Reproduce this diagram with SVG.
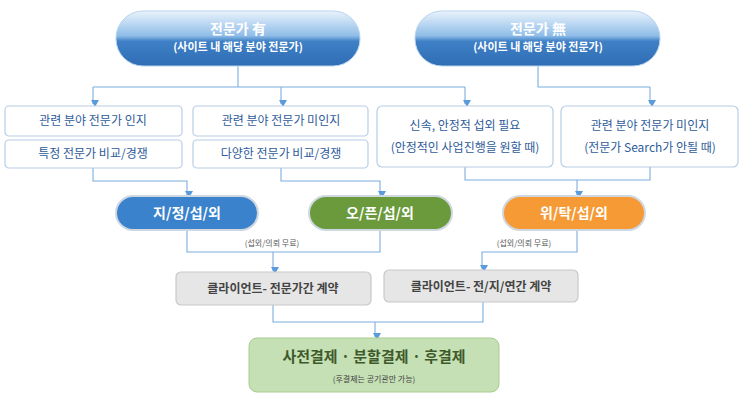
<svg xmlns="http://www.w3.org/2000/svg" width="743" height="404" viewBox="0 0 743 404">
<defs>
<style>
text{font-family:"Noto Sans CJK KR","Noto Sans",sans-serif;text-anchor:middle}
.box{fill:#fff;stroke:#b7cde6;stroke-width:1.2}
.bt{font-size:12px;fill:#2e5c9a}
.ln{fill:none;stroke:#7aaee0;stroke-width:1.1}
.gray{fill:#e6e6e6;stroke:#c8c8c8;stroke-width:1.2}
.gt{font-size:12px;fill:#444;font-weight:bold}
.pw{fill:#fff;font-weight:bold}
</style>
<linearGradient id="gb" x1="0" y1="0" x2="0" y2="1">
<stop offset="0" stop-color="#eaf3fc"/><stop offset="0.45" stop-color="#8fbde8"/><stop offset="0.55" stop-color="#3f80c6"/><stop offset="1" stop-color="#2f6db4"/>
</linearGradient>
<marker id="ar" markerWidth="8" markerHeight="8" refX="4" refY="6" orient="auto" markerUnits="userSpaceOnUse"><path d="M0,0 L8,0 L4,7 z" transform="rotate(-90 4 4)" fill="#5b9bdc"/></marker>
</defs>
<g id="connectors">
<path class="ln" d="M238,66 V87 M93,87 H465 M538,66 V87 H650" />
<path class="ln" d="M93,87 V104" marker-end="url(#ar)"/>
<path class="ln" d="M281,87 V104" marker-end="url(#ar)"/>
<path class="ln" d="M465,87 V104" marker-end="url(#ar)"/>
<path class="ln" d="M650,87 V104" marker-end="url(#ar)"/>
<path class="ln" d="M93,168 V181 H187 V195" marker-end="url(#ar)"/>
<path class="ln" d="M281,168 V181 H380 V195" marker-end="url(#ar)"/>
<path class="ln" d="M465,167 V180 H650 V167 M577,180 V195" marker-end="url(#ar)"/>
<path class="ln" d="M187,230 V252 H380 V230 M273,252 V271" marker-end="url(#ar)"/>
<path class="ln" d="M577,230 V252 H482 V269" marker-end="url(#ar)"/>
<path class="ln" d="M273,305 V322 H483 V302 M375,322 V337" marker-end="url(#ar)"/>
</g>
<g id="n1"><rect x="116" y="11" width="244" height="55" rx="27" fill="url(#gb)" stroke="#b9d4ee"/><text x="238" y="34" class="pw" font-size="14">전문가 有</text><text x="238" y="51" class="pw" font-size="11">(사이트 내 해당 분야 전문가)</text></g>
<g id="n2"><rect x="415" y="11" width="245" height="55" rx="27" fill="url(#gb)" stroke="#b9d4ee"/><text x="538" y="34" class="pw" font-size="14">전문가 無</text><text x="538" y="51" class="pw" font-size="11">(사이트 내 해당 분야 전문가)</text></g>
<g id="b1"><rect class="box" x="5" y="106" width="177" height="30" rx="4"/><text class="bt" x="93" y="125">관련 분야 전문가 인지</text></g>
<g id="b2"><rect class="box" x="5" y="140" width="177" height="28" rx="4"/><text class="bt" x="93" y="158">특정 전문가 비교/경쟁</text></g>
<g id="b3"><rect class="box" x="193" y="106" width="175" height="30" rx="4"/><text class="bt" x="281" y="125">관련 분야 전문가 미인지</text></g>
<g id="b4"><rect class="box" x="193" y="140" width="175" height="28" rx="4"/><text class="bt" x="281" y="158">다양한 전문가 비교/경쟁</text></g>
<g id="b5"><rect class="box" x="377" y="106" width="176" height="61" rx="5"/><text class="bt" x="465" y="130">신속, 안정적 섭외 필요</text><text class="bt" x="465" y="152">(안정적인 사업진행을 원할 때)</text></g>
<g id="b6"><rect class="box" x="561" y="106" width="177" height="61" rx="5"/><text class="bt" x="650" y="130">관련 분야 전문가 미인지</text><text class="bt" x="650" y="152">(전문가 Search가 안될 때)</text></g>
<g id="p1"><rect x="116" y="196" width="142" height="34" rx="17" fill="#3a82cc" stroke="#cfd8e0" stroke-width="2"/><text x="187" y="218" class="pw" font-size="14">지/정/섭/외</text></g>
<g id="p2"><rect x="309" y="196" width="143" height="34" rx="17" fill="#6a9a3c" stroke="#cfd8e0" stroke-width="2"/><text x="380" y="218" class="pw" font-size="14">오/픈/섭/외</text></g>
<g id="p3"><rect x="503" y="196" width="142" height="34" rx="17" fill="#f59a35" stroke="#cfd8e0" stroke-width="2"/><text x="574" y="218" class="pw" font-size="14">위/탁/섭/외</text></g>
<text x="272" y="246" font-size="8" fill="#555">(섭외/의뢰 무료)</text>
<text x="524" y="246" font-size="8" fill="#555">(섭외/의뢰 무료)</text>
<g id="c1"><rect class="gray" x="176" y="272" width="195" height="33" rx="5"/><text class="gt" x="273" y="293">클라이언트- 전문가간 계약</text></g>
<g id="c2"><rect class="gray" x="384" y="270" width="194" height="32" rx="5"/><text class="gt" x="481" y="291">클라이언트- 전/지/연간 계약</text></g>
<g id="f"><rect x="249" y="338" width="250" height="54" rx="8" fill="#c5e0b4" stroke="#a9cc91"/><text x="374" y="362" font-size="15" font-weight="bold" fill="#3f5a2a">사전결제 · 분할결제 · 후결제</text><text x="374" y="382" font-size="8" fill="#444">(후결제는 공기관만 가능)</text></g>
</svg>
